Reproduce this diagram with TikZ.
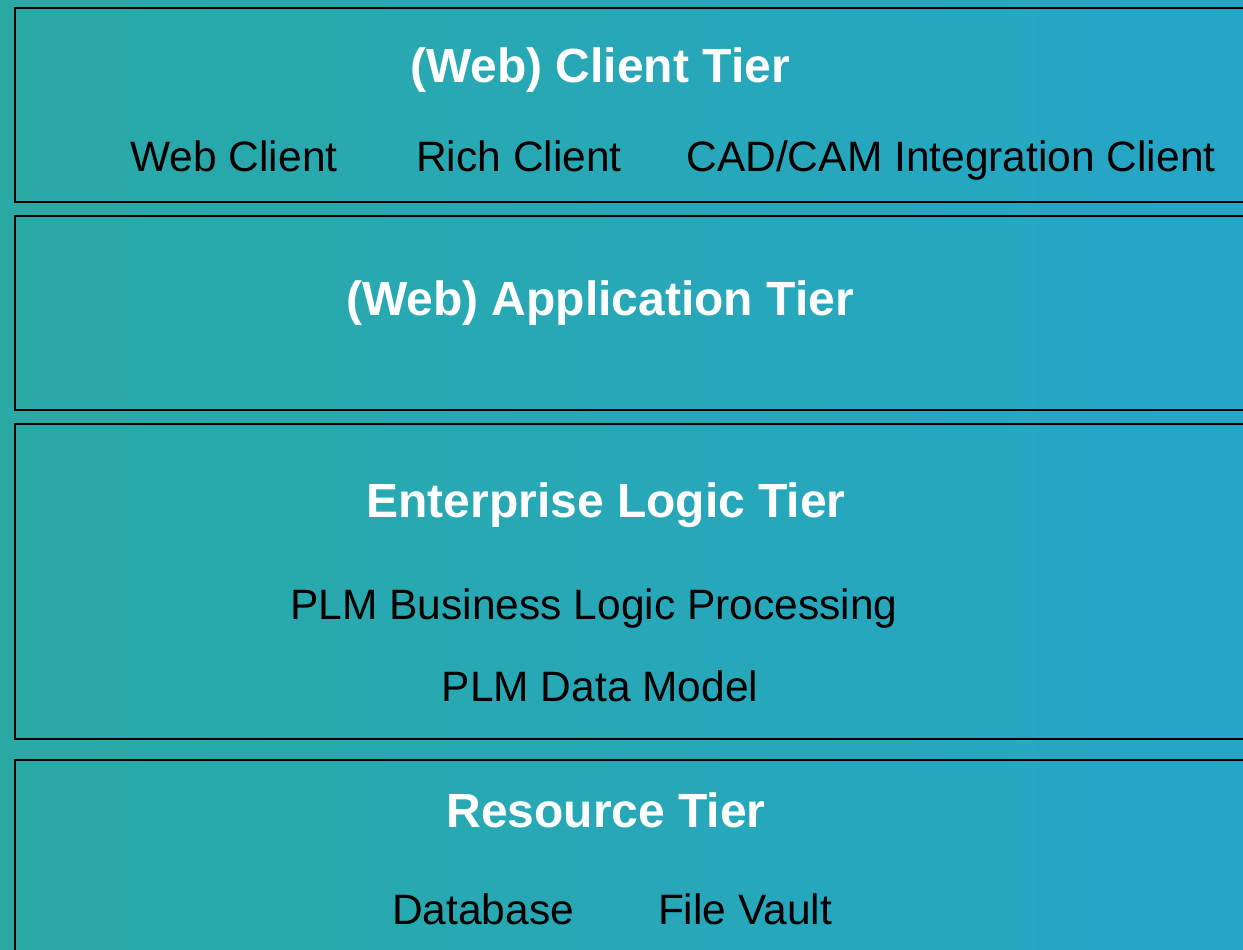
\documentclass[tikz,border=0pt]{standalone}
\usepackage{fontspec}
\setmainfont{Liberation Sans}
\definecolor{tealleft}{RGB}{42,169,165}
\definecolor{tealright}{RGB}{37,166,200}
\begin{document}
\begin{tikzpicture}[x=1pt,y=-1pt,
	tier/.style={draw=black,line width=2.4pt},
	title/.style={anchor=base,text=white,font=\fontsize{48}{52}\selectfont\bfseries,inner sep=0},
	item/.style={anchor=base,text=black,font=\fontsize{42.5}{46}\selectfont,inner sep=0}]
\useasboundingbox (0,0) rectangle (1243,950);
\clip (0,0) rectangle (1243,950);
\shade[left color=tealleft,right color=tealright] (0,0) rectangle (1243,950);
% tiers
\draw[tier] (15,8) rectangle (1270,202);
\draw[tier] (15,216) rectangle (1270,410);
\draw[tier] (15,424) rectangle (1270,739);
\draw[tier] (15,760) rectangle (1270,980);
% client tier
\node[title] (client) at (600,83) {(Web) Client Tier};
\node[item] (webclient) at (234,171) {Web Client};
\node[item] (richclient) at (519,171) {Rich Client};
\node[item] (cadcam) at (951,171) {CAD/CAM Integration Client};
% application tier
\node[title] (application) at (600,315) {(Web) Application Tier};
% enterprise logic tier
\node[title] (enterprise) at (606,517) {Enterprise Logic Tier};
\node[item] (business) at (594,619) {PLM Business Logic Processing};
\node[item] (datamodel) at (600,701) {PLM Data Model};
% resource tier
\node[title] (resource) at (606,827) {Resource Tier};
\node[item] (database) at (483,924) {Database};
\node[item] (vault) at (745,924) {File Vault};
\end{tikzpicture}
\end{document}
